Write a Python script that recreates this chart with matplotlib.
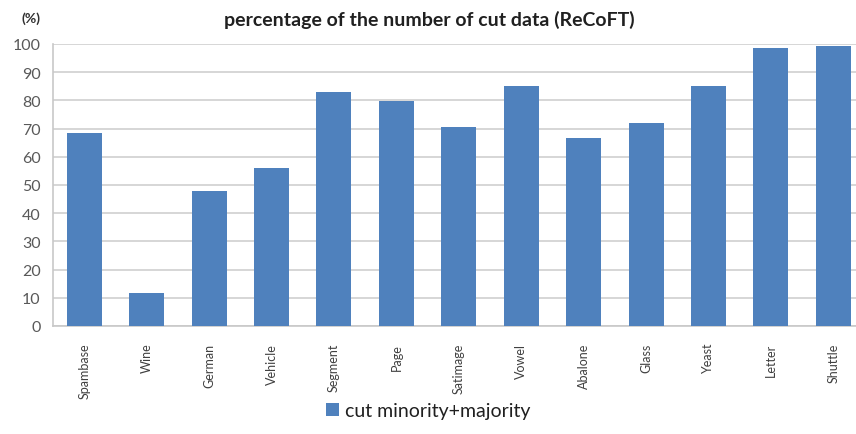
import matplotlib
matplotlib.use("Agg")
import matplotlib.pyplot as plt
import numpy as np

plt.rcParams['font.family'] = ['Lato', 'DejaVu Sans']

categories = ["Spambase", "Wine", "German", "Vehicle", "Segment", "Page", "Satimage",
              "Vowel", "Abalone", "Glass", "Yeast", "Letter", "Shuttle"]
values = [68.4, 11.7, 47.8, 56.0, 83.1, 79.9, 70.6, 85.0, 66.8, 71.9, 85.0, 98.6, 99.4]
yticks = [0, 10, 20, 30, 40, 50, 60, 70, 80, 90, 100]
series_name = "cut minority+majority"
title = "percentage of the number of cut data (ReCoFT)"

fig = plt.figure(figsize=(8.56, 4.35), dpi=100)
ax = fig.add_axes([0.062, 0.2483, 0.948, 0.6483])

x = np.arange(len(categories))
ax.bar(x, values, width=0.56, color="#4F81BD", label=series_name, zorder=3)

ax.set_xlim(-0.5, len(categories) - 0.5)
ax.set_ylim(0, 100)
ax.set_yticks(yticks)
ax.set_yticklabels([str(t) for t in yticks], fontsize=11.5, color="#595959")
ax.set_xticks(x)
ax.set_xticklabels(categories, rotation=90, fontsize=9, color="#404040")
ax.tick_params(axis="y", length=0, pad=9)
ax.tick_params(axis="x", length=0, pad=12)

ax.grid(axis="y", color="#D0D0D0", linewidth=1.2, zorder=0)
for side in ("right", "top"):
    ax.spines[side].set_visible(False)
for side in ("left", "bottom"):
    ax.spines[side].set_color("#C8C8C8")
    ax.spines[side].set_linewidth(1.2)

fig.text(0.502, 0.955, title, ha="center", va="center", fontsize=14,
         fontweight="bold", color="#202020")
fig.text(0.036, 0.958, "(%)", ha="center", va="center", fontsize=10,
         fontweight="bold", color="#303030")

fig.legend(loc="center", bbox_to_anchor=(0.5, 0.053), frameon=False,
           fontsize=14, handlelength=0.7, handleheight=0.7, handletextpad=0.3,
           labelcolor="#202020")

fig.savefig("out.png", dpi=100)
